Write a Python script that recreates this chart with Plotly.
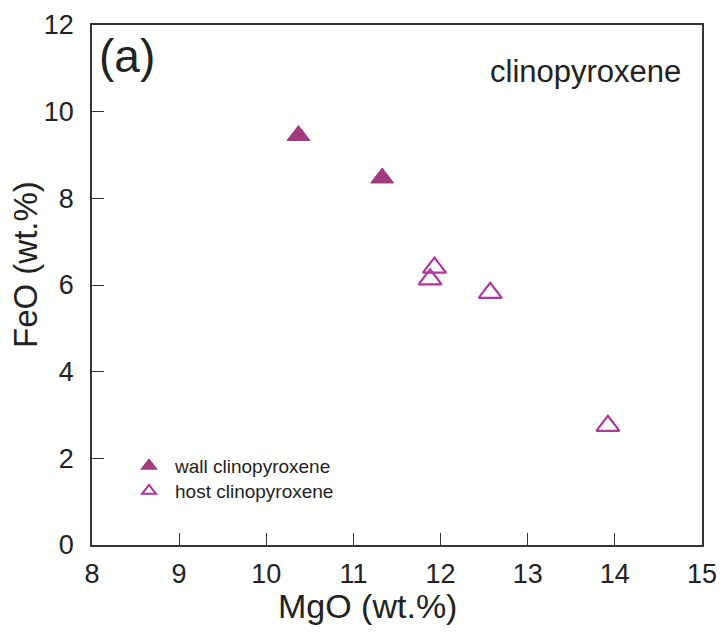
import plotly.graph_objects as go

wall_mgo = [10.37, 11.33]
wall_feo = [9.45, 8.47]
host_mgo = [11.93, 11.88, 12.57, 13.92]
host_feo = [6.40, 6.13, 5.82, 2.75]

x_ticks = [8, 9, 10, 11, 12, 13, 14, 15]
y_ticks = [0, 2, 4, 6, 8, 10, 12]

FONT = "Liberation Sans, Arial, sans-serif"
TXT = "#222222"

# page body has an 8px margin: work in screen pixels, convert to figure pixels
OFF = 8
L, R, T, B = 92 - OFF, 702 - OFF, 25 - OFF, 545 - OFF
W, H = 724 - OFF, 637 - OFF
PW, PH = R - L, B - T

def px(x):
    return (x - OFF - L) / PW

def py(y):
    return (B - (y - OFF)) / PH

fig = go.Figure()
fig.add_trace(go.Scatter(
    x=wall_mgo, y=wall_feo, mode="markers", name="wall clinopyroxene",
    marker=dict(symbol="triangle-up", size=20, color="#a3397f",
                line=dict(color="#a3397f", width=1)),
    legend="legend",
))
fig.add_trace(go.Scatter(
    x=host_mgo, y=host_feo, mode="markers", name="host clinopyroxene",
    marker=dict(symbol="triangle-up-open", size=20, color="#b0359c",
                line=dict(color="#b0359c", width=2.2)),
    legend="legend2",
))

axis_common = dict(
    showgrid=False, zeroline=False, showline=True, linecolor="#333333",
    linewidth=1.5, mirror=True, ticks="inside", ticklen=12, tickwidth=1.3,
    tickcolor="#333333", tickfont=dict(family=FONT, size=27, color=TXT),
    automargin=False,
)

fig.update_xaxes(range=[8, 15], tickvals=x_ticks, ticktext=[str(v) for v in x_ticks],
                 ticklabelstandoff=4, **axis_common)
fig.update_yaxes(range=[0, 12], tickvals=y_ticks, ticktext=[str(v) for v in y_ticks],
                 ticklabelstandoff=11, **axis_common)

fig.add_annotation(x=px(367), y=py(606), xref="paper", yref="paper",
                   xanchor="center", yanchor="middle", text="MgO (wt.%)", showarrow=False,
                   font=dict(family=FONT, size=34, color=TXT))
fig.add_annotation(x=px(25), y=py(265), xref="paper", yref="paper",
                   xanchor="center", yanchor="middle", text="FeO (wt.%)", showarrow=False,
                   textangle=-90, borderpad=0, font=dict(family=FONT, size=33, color=TXT))

fig.add_annotation(x=px(97), y=py(56), xref="paper", yref="paper", xanchor="left", yanchor="middle",
                   text="(a)", showarrow=False,
                   font=dict(family=FONT, size=46, color=TXT))
fig.add_annotation(x=px(683), y=py(71), xref="paper", yref="paper", xanchor="right", yanchor="middle",
                   text="clinopyroxene", showarrow=False,
                   font=dict(family=FONT, size=31, color=TXT))

leg_common = dict(xanchor="left", yanchor="middle", bgcolor="rgba(0,0,0,0)",
                  font=dict(family=FONT, size=19, color=TXT),
                  itemsizing="constant", itemwidth=42)

fig.update_layout(
    width=W, height=H,
    margin=dict(l=L, r=W - R, t=T, b=H - B, autoexpand=False),
    plot_bgcolor="white", paper_bgcolor="white",
    showlegend=True,
    legend=dict(x=px(123), y=py(466), **leg_common),
    legend2=dict(x=px(123), y=py(491), **leg_common),
)

fig.write_html("out.html")
